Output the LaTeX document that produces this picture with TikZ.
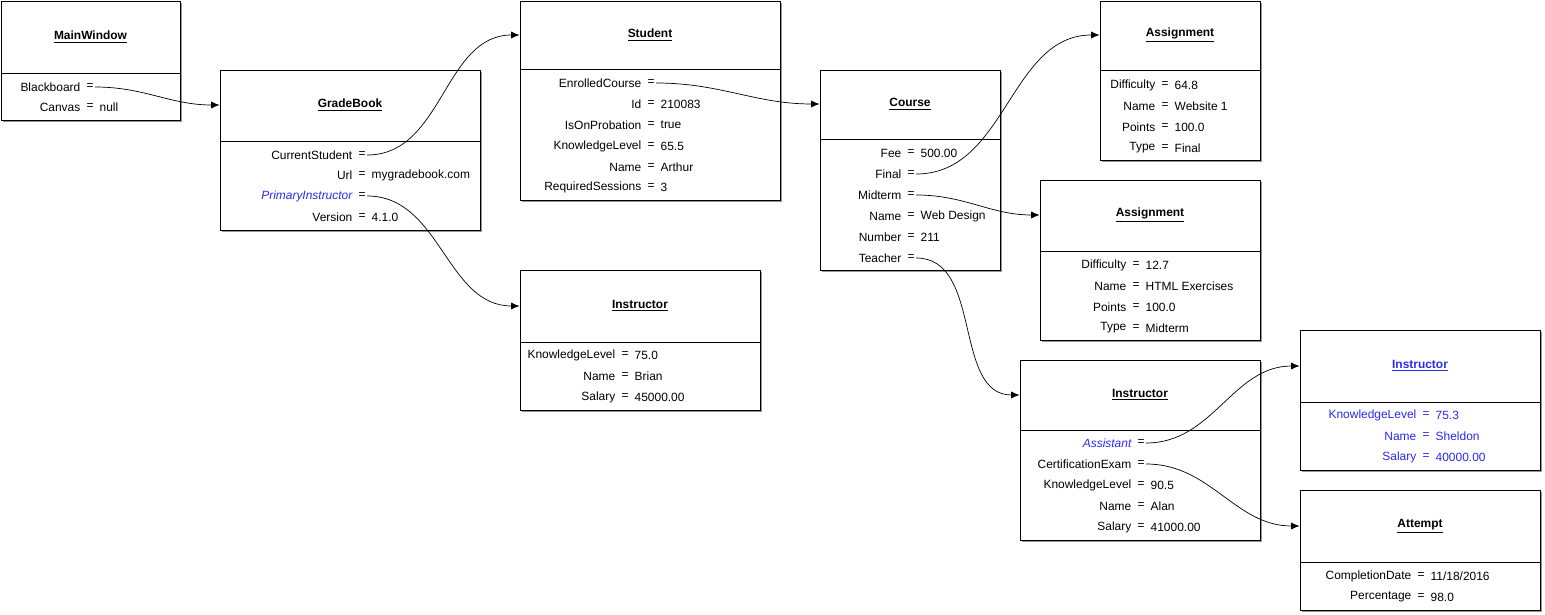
\documentclass[tikz,border=0pt]{standalone}
\usepackage{fontspec}
\setmainfont{Liberation Sans}
\usetikzlibrary{arrows.meta, positioning, fit, shadows}
\definecolor{CBlue}{HTML}{2A2AF0}
\tikzset{
  objbox/.style={draw, fill=white, inner sep=0pt, line width=0.6pt,
    drop shadow={shadow xshift=1.2pt, shadow yshift=-1.2pt, opacity=0.6, fill=black!70}},
  objtitle/.style={font=\fontsize{8.5}{10}\selectfont\bfseries},
  field/.style={font=\fontsize{8.5}{10}\selectfont, inner sep=1pt},
  link/.style={-{Latex[length=6pt, width=5pt]}, line width=0.5pt, out=0, in=180}
}
% box: name, x1, y1, x2, y2, divider y, title y, title
\newcommand{\objbox}[8]{%
  \node[objbox, fit={(#2,#3)(#4,#5)}] (#1) {};
  \draw[line width=0.5pt] (#2,#6) -- (#4,#6);
  \node[objtitle] (#1T) at ({(#2+#4)/2},#7) {\underline{#8}};}
% row: name, x of =, y, label, value
\newcommand{\objrow}[5]{%
  \node[field, anchor=east] at (#2-8,#3) {#4};
  \node[field] (#1) at (#2,#3) {=};
  \node[field, anchor=west] at (#2+8,#3) {#5};}
\begin{document}
\begin{tikzpicture}[x=0.025cm, y=-0.025cm]
    \useasboundingbox (0,0) rectangle (1545,615);

    % MainWindow
    \objbox{mw}{1}{1}{180}{120}{73}{37}{MainWindow}
    \objrow{mwBoard}{90}{87}{Blackboard}{}
    \objrow{mwCanvas}{90}{107}{Canvas}{null}

    % GradeBook
    \objbox{gb}{220}{70}{480}{230}{141}{105}{GradeBook}
    \objrow{gbStudent}{362}{155}{CurrentStudent}{}
    \objrow{gbUrl}{362}{175}{Url}{mygradebook.com}
    \objrow{gbInstr}{362}{196}{\color{CBlue}\itshape PrimaryInstructor}{}
    \objrow{gbVersion}{362}{217}{Version}{4.1.0}

    % Student
    \objbox{st}{520}{1}{780}{200}{69}{35}{Student}
    \objrow{stCourse}{651}{83}{EnrolledCourse}{}
    \objrow{stId}{651}{104}{Id}{210083}
    \objrow{stProb}{651}{125}{IsOnProbation}{true}
    \objrow{stKnow}{651}{146}{KnowledgeLevel}{65.5}
    \objrow{stName}{651}{167}{Name}{Arthur}
    \objrow{stSess}{651}{187}{RequiredSessions}{3}

    % Instructor (Brian)
    \objbox{ib}{520}{270}{760}{410}{342}{306}{Instructor}
    \objrow{ibKnow}{625}{355}{KnowledgeLevel}{75.0}
    \objrow{ibName}{625}{376}{Name}{Brian}
    \objrow{ibSal}{625}{397}{Salary}{45000.00}

    % Course
    \objbox{co}{820}{70}{1000}{270}{139}{104}{Course}
    \objrow{coFee}{911}{153}{Fee}{500.00}
    \objrow{coFinal}{911}{174}{Final}{}
    \objrow{coMid}{911}{195}{Midterm}{}
    \objrow{coName}{911}{216}{Name}{Web Design}
    \objrow{coNum}{911}{237}{Number}{211}
    \objrow{coTeach}{911}{258}{Teacher}{}

    % Assignment (Final)
    \objbox{af}{1100}{1}{1260}{160}{70}{35}{Assignment}
    \objrow{afDiff}{1165}{85}{Difficulty}{64.8}
    \objrow{afName}{1165}{106}{Name}{Website 1}
    \objrow{afPts}{1165}{127}{Points}{100.0}
    \objrow{afType}{1165}{148}{Type}{Final}

    % Assignment (Midterm)
    \objbox{am}{1040}{180}{1260}{340}{251}{215}{Assignment}
    \objrow{amDiff}{1136}{265}{Difficulty}{12.7}
    \objrow{amName}{1136}{286}{Name}{HTML Exercises}
    \objrow{amPts}{1136}{307}{Points}{100.0}
    \objrow{amType}{1136}{328}{Type}{Midterm}

    % Instructor (Alan)
    \objbox{ia}{1020}{360}{1260}{540}{430}{395}{Instructor}
    \objrow{iaAssist}{1141}{443}{\color{CBlue}\itshape Assistant}{}
    \objrow{iaExam}{1141}{464}{CertificationExam}{}
    \objrow{iaKnow}{1141}{485}{KnowledgeLevel}{90.5}
    \objrow{iaName}{1141}{506}{Name}{Alan}
    \objrow{iaSal}{1141}{527}{Salary}{41000.00}

    % Instructor (Sheldon)
    \begin{scope}[every node/.append style={text=CBlue, font=\fontsize{8.5}{10}\selectfont\itshape}]
    \objbox{is}{1300}{330}{1540}{470}{402}{366}{\textbf{Instructor}}
    \objrow{isKnow}{1426}{415}{KnowledgeLevel}{75.3}
    \objrow{isName}{1426}{436}{Name}{Sheldon}
    \objrow{isSal}{1426}{457}{Salary}{40000.00}
    \end{scope}

    % Attempt
    \objbox{at}{1300}{490}{1540}{610}{562}{526}{Attempt}
    \objrow{atDate}{1421}{576}{CompletionDate}{11/18/2016}
    \objrow{atPct}{1421}{597}{Percentage}{98.0}

    % References
    \draw[link] (mwBoard.east) to (gb.west |- gbT);
    \draw[link] (gbStudent.east) to (st.west |- stT);
    \draw[link] (gbInstr.east) to (ib.west |- ibT);
    \draw[link] (stCourse.east) to (co.west |- coT);
    \draw[link] (coFinal.east) to (af.west |- afT);
    \draw[link] (coMid.east) to (am.west |- amT);
    \draw[link] (coTeach.east) to (ia.west |- iaT);
    \draw[link] (iaAssist.east) to (is.west |- isT);
    \draw[link] (iaExam.east) to (at.west |- atT);
\end{tikzpicture}
\end{document}
